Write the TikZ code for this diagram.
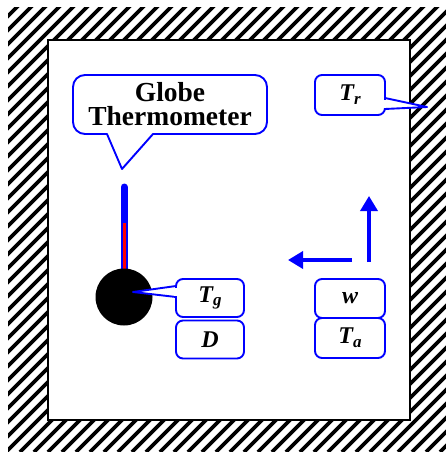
\documentclass[tikz,border=0pt]{standalone}
\usepackage{fontspec}
\setmainfont{Liberation Serif}
\usetikzlibrary{arrows.meta}
\tikzset{
  callout/.style={draw=blue, line width=1.9pt, fill=white, line join=round},
  box/.style={draw=blue, line width=1.9pt, fill=white, rounded corners=7pt, minimum width=68pt, minimum height=38pt, inner sep=0pt},
  lbl/.style={font=\fontsize{24}{26}\selectfont\bfseries\itshape},
  flow/.style={draw=blue, line width=3.5pt, -{Triangle[length=15pt,width=17pt]}},
}
\newcommand{\subs}[1]{\raisebox{-0.35ex}{\fontsize{17}{18}\selectfont #1}}
\begin{document}
\begin{tikzpicture}[x=1pt,y=-1pt]
\useasboundingbox (0,0) rectangle (446,452);
% hatched wall
\begin{scope}
\clip (8,8) rectangle (446,452);
\foreach \c in {-470,-456,...,460} \draw[line width=3.8pt] (\c,452) -- (\c+452,0);
\end{scope}
\draw[line width=1.8pt, fill=white] (48,40) rectangle (410,420);
% globe thermometer callout
\draw[callout] (153,134) [rounded corners=12pt] -- (267,134) -- (267,75) -- (73,75) -- (73,134) [sharp corners] -- (107,134) -- (122,169) -- cycle;
\node[font=\fontsize{27.5}{27}\selectfont\bfseries, align=center] (gt) at (170,104) {Globe\\[-3pt]Thermometer};
% thermometer
\draw[blue, line width=7pt, line cap=round] (124,187) -- (124,275);
\draw[red, line width=3pt] (124,223) -- (124,272);
\fill (124,297) circle (28.5);
\coordinate (globe) at (133,292);
% Tg callout
\node[box] (tg) at (210,298) {};
\draw[callout] (176,286) -- (globe) -- (176,297) -- cycle;
\fill[white] (174,288) rectangle (178.5,295.5);
\node[lbl] at (tg) {T\subs{g}};
\node[box, lbl] (d) at (210,339.5) {D};
% Tr callout
\node[box, minimum width=70pt, minimum height=40pt] (tr) at (350,95) {};
\coordinate (wall) at (427,107);
\draw[callout] (385,98) -- (wall) -- (385,109) -- cycle;
\fill[white] (381.5,99.5) rectangle (386,107.5);
\node[lbl] at (tr) {T\subs{r}};
% flow arrows
\coordinate (up0) at (369,262);
\coordinate (up1) at (369,196);
\coordinate (le0) at (352,260);
\coordinate (le1) at (288,260);
\draw[flow] (up0) -- (up1);
\draw[flow] (le0) -- (le1);
% w and Ta
\node[box, minimum width=70pt, minimum height=39pt, lbl] (w) at (350,298.5) {w};
\node[box, minimum width=70pt, minimum height=40pt, lbl] (ta) at (350,338) {T\subs{a}};
\end{tikzpicture}
\end{document}
